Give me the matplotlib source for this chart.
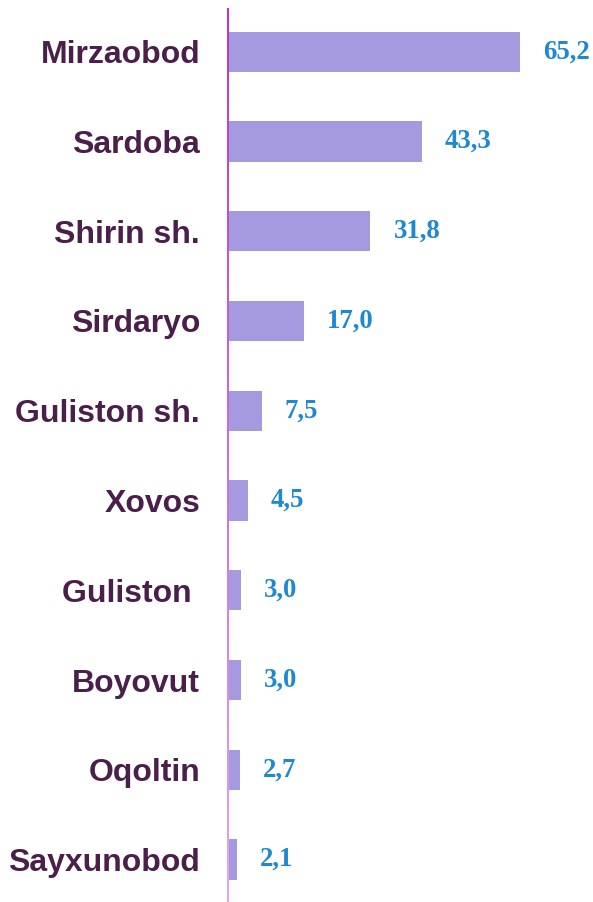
import matplotlib
matplotlib.use("Agg")
import matplotlib.pyplot as plt
import numpy as np
from matplotlib.colors import LinearSegmentedColormap

categories = ["Mirzaobod", "Sardoba", "Shirin sh.", "Sirdaryo", "Guliston sh.",
              "Xovos", "Guliston ", "Boyovut", "Oqoltin", "Sayxunobod"]
values = [65.2, 43.3, 31.8, 17.0, 7.5, 4.5, 3.0, 3.0, 2.7, 2.1]
value_labels = ["65,2", "43,3", "31,8", "17,0", "7,5", "4,5", "3,0", "3,0", "2,7", "2,1"]

W, H = 593, 902
fig = plt.figure(figsize=(W / 100, H / 100), dpi=100)
ax_left = 228 / W
ax_top = 1 - 8 / H
ax = fig.add_axes([ax_left, 0.0, 1 - ax_left, ax_top])

y = np.arange(len(categories))
ax.barh(y, values, height=0.45, color="#A59AE0", zorder=2)
ax.set_xlim(0, 365 / 4.48)
ax.set_ylim(len(categories) - 0.527, -0.487)

for yi, v, lab in zip(y, values, value_labels):
    ax.annotate(lab, xy=(v, yi), xytext=(16.5, 0), textcoords="offset points",
                ha="left", va="center", fontsize=19.3, fontweight="bold",
                family="Liberation Serif", color="#1E88D0")

ax.set_yticks(y)
ax.set_yticklabels(categories, fontsize=23.0, fontweight="bold",
                   family="Liberation Sans", color="#4A1F4A")
ax.tick_params(axis="y", length=0, pad=20)
ax.set_xticks([])
for s in ax.spines.values():
    s.set_visible(False)

# gradient vertical axis line
cmap = LinearSegmentedColormap.from_list("g", ["#C030C8", "#E9A6EC"])
lax = fig.add_axes([227 / W, 0.0, 2 / W, ax_top])
lax.imshow(np.linspace(0, 1, 256).reshape(-1, 1), aspect="auto", cmap=cmap,
           interpolation="bilinear")
lax.axis("off")

fig.savefig("out.png", dpi=100)
